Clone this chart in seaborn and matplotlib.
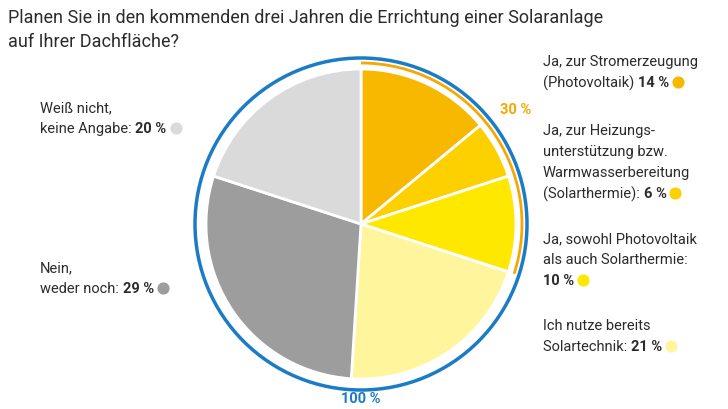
import matplotlib
matplotlib.use("Agg")
import matplotlib.pyplot as plt
from matplotlib.patches import Circle, Arc
import seaborn as sns

# data
shares = [14, 6, 10, 21, 29, 20]
colors = ["#F9B800", "#FDD000", "#FFE800", "#FFF59D", "#9D9D9D", "#DADADA"]
title_lines = ["Planen Sie in den kommenden drei Jahren die Errichtung einer Solaranlage",
               "auf Ihrer Dachfläche?"]
labels = [
    (["Ja, zur Stromerzeugung", "(Photovoltaik) "], "14 %"),
    (["Ja, zur Heizungs-", "unterstützung bzw.", "Warmwasserbereitung", "(Solarthermie): "], "6 %"),
    (["Ja, sowohl Photovoltaik", "als auch Solarthermie:", ""], "10 %"),
    (["Ich nutze bereits", "Solartechnik: "], "21 %"),
    (["Nein,", "weder noch: "], "29 %"),
    (["Weiß nicht,", "keine Angabe: "], "20 %"),
]
label_pos = [(543, 62), (543, 131), (543, 239), (543, 326), (40, 268), (40, 108)]
yes_total = "30 %"
all_total = "100 %"

sns.set_theme(style="white")
plt.rcParams["font.family"] = "Roboto"
fig = plt.figure(figsize=(7.28, 4.10), dpi=100)
ax = fig.add_axes([0, 0, 1, 1])
ax.set_xlim(0, 728)
ax.set_ylim(0, 410)
ax.set_aspect("equal")
ax.axis("off")

cx, cy, r = 361, 410 - 225, 155
ax.pie(shares, colors=colors, startangle=90, counterclock=False, center=(cx, cy), radius=r,
       wedgeprops=dict(edgecolor="white", linewidth=2), frame=True)
ax.set_xlim(0, 728)
ax.set_ylim(0, 410)
ax.axis("off")
ax.add_patch(Circle((cx, cy), 166, fill=False, edgecolor="#1B7CC6", linewidth=2.5))
yes_deg = sum(shares[:3]) * 3.6
ax.add_patch(Arc((cx, cy), 2 * 161, 2 * 161, theta1=90 - yes_deg, theta2=90,
                 edgecolor="#F5A800", linewidth=2))

txt = "#2b2b2b"
for i, line in enumerate(title_lines):
    ax.text(8, 410 - 18 - 24 * i, line, fontsize=13, color=txt, va="center")

fig.canvas.draw()
rend = fig.canvas.get_renderer()
for (lines, pct), (x, y), col in zip(labels, label_pos, colors):
    for i, line in enumerate(lines):
        yy = 410 - y - 21 * i
        t = ax.text(x, yy, line, fontsize=10.5, color=txt, va="center")
    bb = t.get_window_extent(rend) if lines[-1] else None
    xs = bb.x1 if bb is not None else x
    b = ax.text(xs, yy, pct, fontsize=10.5, color=txt, va="center", fontweight="bold")
    bb2 = b.get_window_extent(rend)
    ax.scatter([bb2.x1 + 9], [yy], s=60, color=col, zorder=5)

ax.text(516, 410 - 110, yes_total, fontsize=10.5, color="#F5A800", fontweight="bold",
        ha="center", va="center")
ax.text(cx, 410 - 399, all_total, fontsize=10.5, color="#1B7CC6", fontweight="bold",
        ha="center", va="center")

fig.savefig("out.png", dpi=100)
